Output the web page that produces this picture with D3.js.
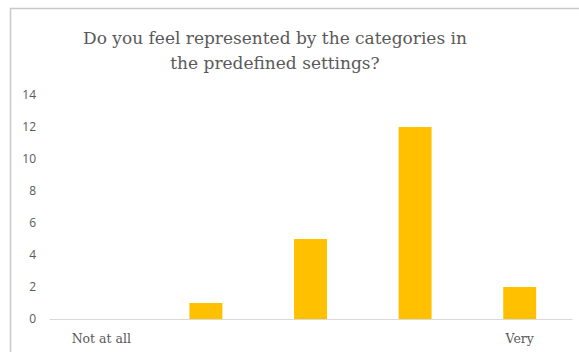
<!DOCTYPE html>
<html>
<head>
<meta charset="utf-8">
<script src="https://cdn.jsdelivr.net/npm/d3@7"></script>
<style>
  html, body { margin: 0; padding: 0; background: #fff; }
  svg { display: block; }
</style>
</head>
<body>
<svg id="chart" width="579" height="352"></svg>
<script>
// Survey responses on a 5-point scale
const categories = ["Not at all", "2", "3", "4", "Very"];
const categoryLabels = ["Not at all", "", "", "", "Very"];
const counts = [0, 1, 5, 12, 2];
const yTicks = [0, 2, 4, 6, 8, 10, 12, 14];
const titleLines = ["Do you feel represented by the categories in", "the predefined settings?"];

const svg = d3.select("#chart");
const W = 579, H = 352;
const margin = { left: 49, right: 7, top: 95, bottom: 33 };
const serif = "'DejaVu Serif', serif";

// Chart frame
svg.append("rect")
  .attr("x", 10.5).attr("y", 8.5)
  .attr("width", W + 20).attr("height", H + 20)
  .attr("fill", "#fff")
  .attr("stroke", "#c8c8c8")
  .attr("stroke-width", 1.5);

const x = d3.scaleBand()
  .domain(categories)
  .range([margin.left, W - margin.right])
  .paddingInner(0.685)
  .paddingOuter(0.3425);

const y = d3.scaleLinear()
  .domain([0, 14])
  .range([H - margin.bottom, margin.top]);

// Title
svg.append("g")
  .selectAll("text")
  .data(titleLines)
  .join("text")
  .attr("x", 275)
  .attr("y", (d, i) => 44 + i * 25)
  .attr("text-anchor", "middle")
  .attr("font-family", serif)
  .attr("font-size", 17)
  .attr("fill", "#595959")
  .text(d => d);

// Y axis labels (no line, no ticks)
const yAxis = d3.axisLeft(y).tickValues(yTicks).tickSize(0).tickPadding(0);
const gy = svg.append("g")
  .attr("transform", "translate(36,0)")
  .call(yAxis);
gy.select(".domain").remove();
gy.selectAll("text")
  .attr("font-family", "'Open Sans', sans-serif")
  .attr("font-size", 12)
  .attr("fill", "#595959");

// Bars
svg.append("g")
  .selectAll("rect")
  .data(counts)
  .join("rect")
  .attr("x", (d, i) => x(categories[i]))
  .attr("width", x.bandwidth())
  .attr("y", d => y(d))
  .attr("height", d => y(0) - y(d))
  .attr("fill", "#FFC000");

// X axis baseline and category labels
const xAxis = d3.axisBottom(x)
  .tickSize(0)
  .tickPadding(15)
  .tickFormat((d, i) => categoryLabels[i]);
const gx = svg.append("g")
  .attr("transform", `translate(0,${y(0)})`)
  .call(xAxis);
gx.select(".domain")
  .attr("stroke", "#d9d9d9")
  .attr("stroke-width", 1.2);
gx.selectAll("text")
  .attr("font-family", serif)
  .attr("font-size", 12.5)
  .attr("fill", "#595959");
</script>
</body>
</html>
